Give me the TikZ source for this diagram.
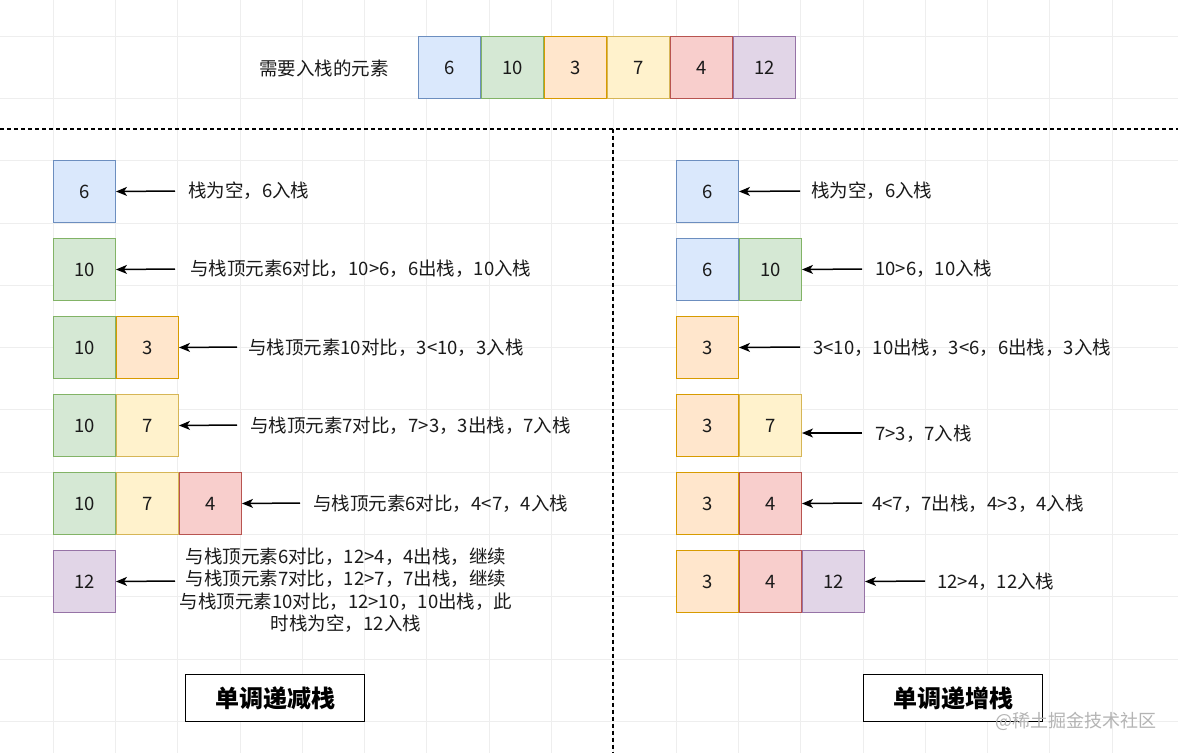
\documentclass[tikz,border=0pt]{standalone}
\usepackage{fontspec}
\setmainfont{Noto Sans CJK SC}
\usetikzlibrary{arrows.meta}
\definecolor{bF}{HTML}{DAE8FC}\definecolor{bS}{HTML}{6C8EBF}
\definecolor{gF}{HTML}{D5E8D4}\definecolor{gS}{HTML}{82B366}
\definecolor{oF}{HTML}{FFE6CC}\definecolor{oS}{HTML}{D79B00}
\definecolor{yF}{HTML}{FFF2CC}\definecolor{yS}{HTML}{D6B656}
\definecolor{rF}{HTML}{F8CECC}\definecolor{rS}{HTML}{B85450}
\definecolor{pF}{HTML}{E1D5E7}\definecolor{pS}{HTML}{9673A6}
\definecolor{txt}{HTML}{1A1A1A}
\definecolor{gridc}{HTML}{EEEEEE}
\definecolor{wmark}{HTML}{B4B4B4}
\tikzset{
  cell/.style={draw, line width=1pt, minimum width=62pt, minimum height=62pt, inner sep=0pt,
    anchor=north west, text=txt, font=\fontsize{18.5}{20}\selectfont},
  cb/.style={cell, draw=bS, fill=bF},
  cg/.style={cell, draw=gS, fill=gF},
  co/.style={cell, draw=oS, fill=oF},
  cy/.style={cell, draw=yS, fill=yF},
  cr/.style={cell, draw=rS, fill=rF},
  cp/.style={cell, draw=pS, fill=pF},
  lbl/.style={anchor=west, inner sep=0pt, text=txt, font=\fontsize{18.5}{20}\selectfont},
  arr/.style={-{Stealth[length=11pt,width=9pt,inset=3pt]}, line width=1.5pt, draw=black},
  sep/.style={line width=1.3pt, dash pattern=on 4pt off 3pt},
  titlebox/.style={draw=black, line width=1.3pt, minimum width=179pt, minimum height=47pt,
    inner sep=0pt, anchor=north west, font=\fontsize{24}{26}\selectfont\bfseries, fill=white},
  gridline/.style={draw=gridc, line width=0.8pt}
}
\begin{document}
\begin{tikzpicture}[x=1pt,y=-1pt]
\useasboundingbox (0,0) rectangle (1178,753);
\fill[white] (0,0) rectangle (1178,753);
% grid
\foreach \i in {0,...,18} \draw[gridline] ({53+62.3*(\i-1)},0) -- ({53+62.3*(\i-1)},753);
\foreach \j in {-1,...,11} \draw[gridline] (0,{36+62.3*\j}) -- (1178,{36+62.3*\j});

% top row
\node[lbl, anchor=center] (toplbl) at (324,68) {需要入栈的元素};
\node[cb] (t1) at (418,36) {6};
\node[cg] (t2) at (t1.north east) {10};
\node[co] (t3) at (t2.north east) {3};
\node[cy] (t4) at (t3.north east) {7};
\node[cr] (t5) at (t4.north east) {4};
\node[cp] (t6) at (t5.north east) {12};

% separators
\coordinate (hl) at (0,129);
\coordinate (hr) at (1178,129);
\coordinate (vt) at (613,129);
\coordinate (vb) at (613,753);
\draw[sep] (hl) -- (hr);
\draw[sep] (vt) -- (vb);

% ---------- left column (decreasing) ----------
\node[cb] (a1) at (53,160) {6};
\coordinate (sa1) at (175,191);
\draw[arr] (sa1) -- (a1.east);
\node[lbl] (la1) at (188,191) {栈为空，6入栈};

\node[cg] (a2) at (53,238) {10};
\coordinate (sa2) at (175,269);
\draw[arr] (sa2) -- (a2.east);
\node[lbl] (la2) at (190,269) {与栈顶元素6对比，10>6，6出栈，10入栈};

\node[cg] (a3a) at (53,316) {10};
\node[co] (a3b) at (a3a.north east) {3};
\coordinate (sa3) at (237,347);
\draw[arr] (sa3) -- (a3b.east);
\node[lbl] (la3) at (248,348) {与栈顶元素10对比，3<10，3入栈};

\node[cg] (a4a) at (53,394) {10};
\node[cy] (a4b) at (a4a.north east) {7};
\coordinate (sa4) at (237,425);
\draw[arr] (sa4) -- (a4b.east);
\node[lbl] (la4) at (250,426) {与栈顶元素7对比，7>3，3出栈，7入栈};

\node[cg] (a5a) at (53,472) {10};
\node[cy] (a5b) at (a5a.north east) {7};
\node[cr] (a5c) at (a5b.north east) {4};
\coordinate (sa5) at (300,503);
\draw[arr] (sa5) -- (a5c.east);
\node[lbl] (la5) at (313,504) {与栈顶元素6对比，4<7，4入栈};

\node[cp] (a6) at (53,550) {12};
\coordinate (sa6) at (175,581);
\draw[arr] (sa6) -- (a6.east);
\node[lbl, anchor=center, align=center, font=\fontsize{18.5}{22.5}\selectfont] (la6) at (346,590)
  {与栈顶元素6对比，12>4，4出栈，继续\\与栈顶元素7对比，12>7，7出栈，继续\\与栈顶元素10对比，12>10，10出栈，此\\时栈为空，12入栈};

% ---------- right column (increasing) ----------
\node[cb] (b1) at (676,160) {6};
\coordinate (sb1) at (800,191);
\draw[arr] (sb1) -- (b1.east);
\node[lbl] (lb1) at (811,191) {栈为空，6入栈};

\node[cb] (b2a) at (676,238) {6};
\node[cg] (b2b) at (b2a.north east) {10};
\coordinate (sb2) at (862,269);
\draw[arr] (sb2) -- (b2b.east);
\node[lbl] (lb2) at (875,269) {10>6，10入栈};

\node[co] (b3) at (676,316) {3};
\coordinate (sb3) at (800,347);
\draw[arr] (sb3) -- (b3.east);
\node[lbl] (lb3) at (813,348) {3<10，10出栈，3<6，6出栈，3入栈};

\node[co] (b4a) at (676,394) {3};
\node[cy] (b4b) at (b4a.north east) {7};
\coordinate (sb4) at (862,433);
\draw[arr] (sb4) -- (sb4 -| b4b.east);
\node[lbl] (lb4) at (875,434) {7>3，7入栈};

\node[co] (b5a) at (676,472) {3};
\node[cr] (b5b) at (b5a.north east) {4};
\coordinate (sb5) at (862,503);
\draw[arr] (sb5) -- (b5b.east);
\node[lbl] (lb5) at (872,504) {4<7，7出栈，4>3，4入栈};

\node[co] (b6a) at (676,550) {3};
\node[cr] (b6b) at (b6a.north east) {4};
\node[cp] (b6c) at (b6b.north east) {12};
\coordinate (sb6) at (925,581);
\draw[arr] (sb6) -- (b6c.east);
\node[lbl] (lb6) at (937,582) {12>4，12入栈};

% titles
\node[titlebox] (dec) at (185,674) {单调递减栈};
\node[titlebox] (inc) at (863,674) {单调递增栈};

% watermark
\node[lbl, text=wmark, font=\fontsize{18}{20}\selectfont] (wm) at (995,721) {@稀土掘金技术社区};
\end{tikzpicture}
\end{document}
